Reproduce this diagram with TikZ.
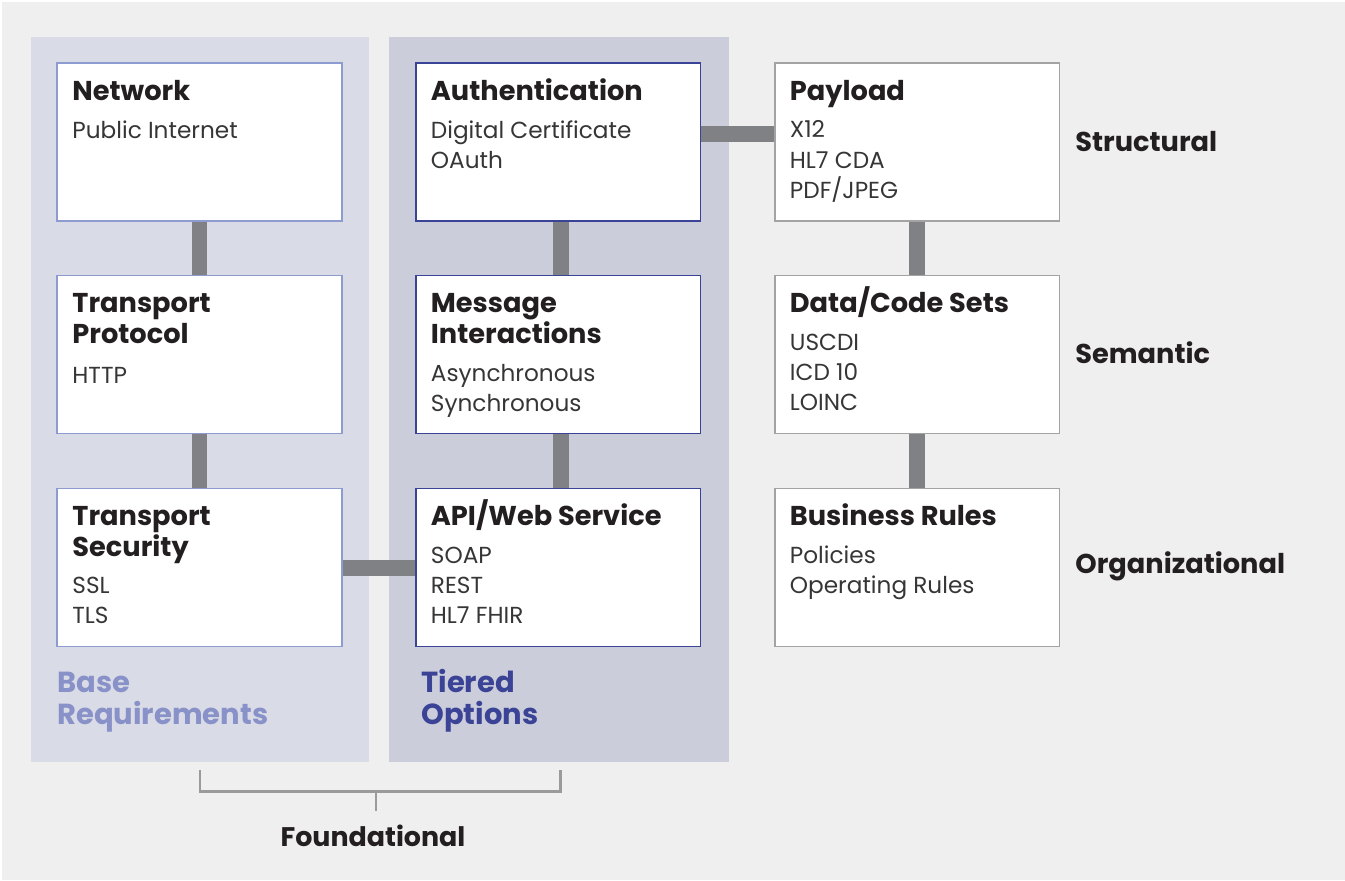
\documentclass[tikz,border=0pt]{standalone}
\usepackage{fontspec}
\setmainfont{Poppins}
\usetikzlibrary{positioning, calc}

\begin{document}
\begin{tikzpicture}[x=0.02cm, y=-0.02cm]
% --- CORES HEX ---
\definecolor{fundo}{HTML}{EFEFEF}
\definecolor{painelbase}{HTML}{D9DBE6}
\definecolor{painelnivel}{HTML}{CBCDDB}
\definecolor{bordabase}{HTML}{8E9BD0}
\definecolor{bordanivel}{HTML}{3A4396}
\definecolor{bordacinza}{HTML}{A3A3A3}
\definecolor{conector}{HTML}{808185}
\definecolor{textobase}{HTML}{8891C8}
\definecolor{titulocor}{HTML}{231F20}
\definecolor{textocor}{HTML}{363636}
\definecolor{chave}{HTML}{9A9A9A}

\tikzset{
  caixa/.style={draw, line width=1.1pt, fill=white, minimum width=5.7cm, minimum height=3.16cm, inner sep=0pt},
  titulo/.style={anchor=base west, inner sep=0pt, align=left, text=titulocor, font=\fontsize{15.5}{17.6}\selectfont\bfseries},
  texto/.style={anchor=base west, inner sep=0pt, align=left, text=textocor, font=\fontsize{13.2}{17.1}\selectfont},
  rotulo/.style={anchor=base west, inner sep=0pt, align=left, font=\fontsize{15.5}{18.2}\selectfont\bfseries},
  ligacao/.style={conector, line width=9.1pt},
}

\useasboundingbox (0,0) rectangle (1345,880);

% LAYER 1: Fundo e paineis
\fill[white] (0,0) rectangle (1345,880);
\fill[fundo] (2,2) rectangle (1345,880);
\fill[painelbase] (31,37) rectangle (369,762);
\fill[painelnivel] (389,37) rectangle (729,762);

% LAYER 2: Caixas
\node[caixa, draw=bordabase] (rede) at (199.5,142) {};
\node[caixa, draw=bordabase] (protocolo) at (199.5,354.5) {};
\node[caixa, draw=bordabase] (seguranca) at (199.5,567.5) {};
\node[caixa, draw=bordanivel] (autent) at (558,142) {};
\node[caixa, draw=bordanivel] (mensagens) at (558,354.5) {};
\node[caixa, draw=bordanivel] (api) at (558,567.5) {};
\node[caixa, draw=bordacinza] (payload) at (917,142) {};
\node[caixa, draw=bordacinza] (dados) at (917,354.5) {};
\node[caixa, draw=bordacinza] (regras) at (917,567.5) {};

% LAYER 3: Ligacoes
\draw[ligacao] (rede) -- (protocolo);
\draw[ligacao] (protocolo) -- (seguranca);
\draw[ligacao] ($(autent.south)+(3,0)$) -- ($(mensagens.north)+(3,0)$);
\draw[ligacao] ($(mensagens.south)+(3,0)$) -- ($(api.north)+(3,0)$);
\draw[ligacao] (payload) -- (dados);
\draw[ligacao] (dados) -- (regras);
\draw[ligacao] (seguranca) -- (api);
\draw[ligacao] ($(autent.east)+(0,-8)$) -- ($(payload.west)+(0,-8)$);

% LAYER 4: Textos das caixas (ancorados na ultima linha)
\node[titulo] (rede-t) at ($(rede.north west)+(16,38)$) {Network};
\node[texto] (rede-s) at ($(rede.north west)+(16,76)$) {Public Internet};
\node[titulo] (protocolo-t) at ($(protocolo.north west)+(16,69)$) {Transport\\Protocol};
\node[texto] (protocolo-s) at ($(protocolo.north west)+(16,109)$) {HTTP};
\node[titulo] (seguranca-t) at ($(seguranca.north west)+(16,69)$) {Transport\\Security};
\node[texto] (seguranca-s) at ($(seguranca.north west)+(16,136)$) {SSL\\TLS};

\node[titulo] (autent-t) at ($(autent.north west)+(16,38)$) {Authentication};
\node[texto] (autent-s) at ($(autent.north west)+(16,106)$) {Digital Certificate\\OAuth};
\node[titulo] (mensagens-t) at ($(mensagens.north west)+(16,69)$) {Message\\Interactions};
\node[texto] (mensagens-s) at ($(mensagens.north west)+(16,137)$) {Asynchronous\\Synchronous};
\node[titulo] (api-t) at ($(api.north west)+(16,38)$) {API/Web Service};
\node[texto] (api-s) at ($(api.north west)+(16,136)$) {SOAP\\REST\\HL7 FHIR};

\node[titulo] (payload-t) at ($(payload.north west)+(16,38)$) {Payload};
\node[texto] (payload-s) at ($(payload.north west)+(16,136)$) {X12\\HL7 CDA\\PDF/JPEG};
\node[titulo] (dados-t) at ($(dados.north west)+(16,38)$) {Data/Code Sets};
\node[texto] (dados-s) at ($(dados.north west)+(16,136)$) {USCDI\\ICD 10\\LOINC};
\node[titulo] (regras-t) at ($(regras.north west)+(16,38)$) {Business Rules};
\node[texto] (regras-s) at ($(regras.north west)+(16,106)$) {Policies\\Operating Rules};

% LAYER 5: Rotulos laterais e dos paineis
\node[rotulo, text=titulocor] (estrutural) at (1075,151) {Structural};
\node[rotulo, text=titulocor] (semantico) at (1075,363) {Semantic};
\node[rotulo, text=titulocor] (organizacional) at (1075,573) {Organizational};
\node[rotulo, text=textobase, font=\fontsize{16.5}{18.2}\selectfont\bfseries] (base) at (57,724) {Base\\Requirements};
\node[rotulo, text=bordanivel, font=\fontsize{16.5}{18.2}\selectfont\bfseries] (nivel) at (421,724) {Tiered\\Options};

% LAYER 6: Chave inferior
\coordinate (chave-e) at (200,770);
\coordinate (chave-d) at (560,770);
\coordinate (chave-m) at (376,811);
\draw[chave, line width=1.7pt] (chave-e) -- (200,791) -- (560,791) -- (chave-d);
\draw[chave, line width=1.7pt] (376,791) -- (chave-m);
\node[rotulo, anchor=base, text=titulocor, font=\fontsize{15.3}{18}\selectfont\bfseries] (fundacional) at (373,846) {Foundational};
\end{tikzpicture}
\end{document}
